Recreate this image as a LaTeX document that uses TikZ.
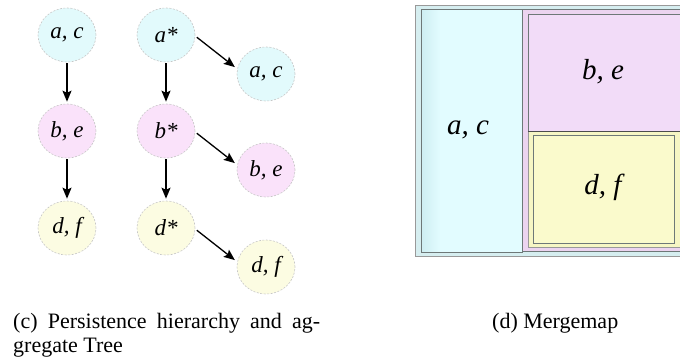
\documentclass[tikz,border=0pt]{standalone}
\usepackage{fontspec}
\setmainfont{Liberation Serif}
\usetikzlibrary{shapes.geometric,arrows.meta}
\definecolor{cyanF}{RGB}{226,250,252}
\definecolor{pinkF}{RGB}{250,226,250}
\definecolor{yellowF}{RGB}{252,252,226}
\definecolor{mmOuter}{RGB}{214,238,240}
\definecolor{mmCyan}{RGB}{226,252,255}
\definecolor{mmCyanD}{RGB}{206,238,242}
\definecolor{mmPinkOuter}{RGB}{236,212,240}
\definecolor{mmPink}{RGB}{242,220,248}
\definecolor{mmYellowOuter}{RGB}{246,246,196}
\definecolor{mmYellow}{RGB}{250,250,204}
\definecolor{mmLine}{RGB}{110,120,120}
\begin{document}
\begin{tikzpicture}[x=1pt,y=-1pt,
  blob/.style={ellipse, minimum width=58pt, minimum height=54pt, inner sep=0pt,
    draw=black!22, dash pattern=on 2pt off 1.5pt, line width=0.6pt,
    font=\fontsize{23}{26}\selectfont\itshape},
  arr/.style={-{Stealth[length=11pt,width=9pt,inset=2pt]}, line width=1.3pt},
  mmbox/.style={draw=mmLine, line width=0.8pt},
  mmlabel/.style={font=\fontsize{29}{32}\selectfont\itshape},
  captext/.style={inner sep=0pt, font=\fontsize{22}{25}\selectfont}]
\useasboundingbox (0,0) rectangle (680,362);
\clip (0,0) rectangle (680,362);

% persistence hierarchy
\node[blob, fill=cyanF]   (ac1) at (67,35)  {a, c};
\node[blob, fill=pinkF]   (be1) at (67,131) {b, e};
\node[blob, fill=yellowF] (df1) at (67,228) {d, f};
\draw[arr, shorten <=1pt, shorten >=2pt] (ac1) -- (be1);
\draw[arr, shorten <=1pt, shorten >=2pt] (be1) -- (df1);

% aggregate tree
\node[blob, fill=cyanF]   (as) at (166,35)  {a*};
\node[blob, fill=pinkF]   (bs) at (166,131) {b*};
\node[blob, fill=yellowF] (ds) at (166,228) {d*};
\node[blob, fill=cyanF]   (ac2) at (266,74)  {a, c};
\node[blob, fill=pinkF]   (be2) at (266,170) {b, e};
\node[blob, fill=yellowF] (df2) at (266,267) {d, f};
\draw[arr, shorten <=1pt, shorten >=2pt] (as) -- (bs);
\draw[arr, shorten <=1pt, shorten >=2pt] (bs) -- (ds);
\draw[arr, shorten <=2pt, shorten >=3pt] (as.-2) -- (ac2.170);
\draw[arr, shorten <=2pt, shorten >=3pt] (bs.-2) -- (be2.170);
\draw[arr, shorten <=2pt, shorten >=3pt] (ds.-2) -- (df2.170);

% mergemap
\filldraw[fill=mmOuter, draw=black!40, line width=0.8pt] (415,5) rectangle (700,256);
\fill[mmCyan] (421,9) rectangle (522,252);
\shade[left color=mmCyanD, right color=mmCyan] (421,9) rectangle (440,252);
\draw[mmbox] (421,9) rectangle (522,252);
\filldraw[mmbox, fill=mmPinkOuter] (522,9) rectangle (700,251);
\filldraw[mmbox, fill=mmPink] (528,14) rectangle (700,131);
\filldraw[draw=black!40, line width=0.8pt, fill=mmYellowOuter] (528,131) rectangle (700,247);
\filldraw[mmbox, fill=mmYellow] (533,135) rectangle (674,243);
\draw[black!70, line width=1pt] (528,131) -- (700,131);
\node[mmlabel] (mac) at (468,130) {a, c};
\node[mmlabel] (mbe) at (603,72) {b, e};
\node[mmlabel] (mdf) at (603,187) {d, f};

% captions
\node[captext, anchor=base west] (capc1) at (13,328) {\makebox[307pt][s]{(c) Persistence hierarchy and ag-}};
\node[captext, anchor=base west] (capc2) at (13,352) {gregate Tree};
\node[captext, anchor=base west] (capd) at (492,328) {(d) Mergemap};
\end{tikzpicture}
\end{document}
